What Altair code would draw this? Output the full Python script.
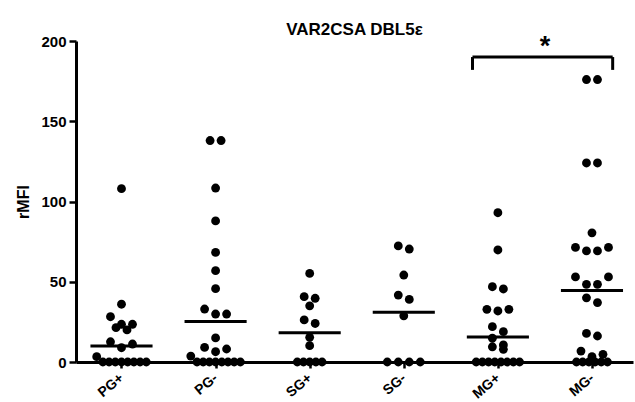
import altair as alt
import pandas as pd

# ---- data ----
groups = ["PG+", "PG-", "SG+", "SG-", "MG+", "MG-"]
pg_pos = [108, 36, 28.2, 23.5, 23.5, 21.4, 20, 12.6, 11.2, 8.9, 3.3, 0, 0, 0, 0, 0, 0, 0, 0]
pg_neg = [138, 138, 108.4, 87.9, 68.3, 56.9, 45.7, 33, 29.9, 29.9, 15, 9.1, 8.1, 6.4, 3.7,
          0, 0, 0, 0, 0, 0, 0, 0]
sg_pos = [55.2, 40.7, 39.7, 35, 26.2, 24, 15.4, 10.2, 0, 0, 0, 0, 0]
sg_neg = [72.3, 70.4, 54.2, 41.7, 39, 28.8, 0, 0, 0, 0]
mg_pos = [93, 69.8, 46.9, 45.5, 32.8, 32.8, 31.8, 22, 18.9, 14.8, 10.6, 9.5, 7.9,
          0, 0, 0, 0, 0, 0, 0, 0]
mg_neg = [176, 176, 124, 124, 80.5, 71.4, 71.4, 69.2, 69.2, 53, 53, 48.4, 48.4, 40, 37,
          17.8, 16.2, 6.8, 4.8, 3.3, 0, 0, 0, 0, 0, 0]
medians = [10, 25.3, 18.3, 31, 15.6, 44.6]
sig_pair = ["MG+", "MG-"]
sig_label = "*"
chart_title = "VAR2CSA DBL5ε"
y_title = "rMFI"

series = [pg_pos, pg_neg, sg_pos, sg_neg, mg_pos, mg_neg]

# ---- group dots into swarm rows (values within one dot height share a row) ----
ROW_GAP = 5.0
recs = []
for gi, (g, vals) in enumerate(zip(groups, series)):
    row, top = -1, None
    for v in sorted(vals, reverse=True):
        if top is None or top - v > ROW_GAP:
            row += 1
            top = v
        recs.append({"group": g, "gi": gi, "value": v, "row": row})
points_df = pd.DataFrame(recs)
med_df = pd.DataFrame({"group": groups, "gi": list(range(len(groups))), "median": medians})

li, ri = groups.index(sig_pair[0]), groups.index(sig_pair[1])
br_df = pd.DataFrame({"xl": [li - 0.27], "xr": [ri + 0.22], "ytop": [190], "ybot": [182],
                      "xm": [(li + ri) / 2], "ys": [191], "label": [sig_label]})

FONT = "Liberation Sans"
PX_PER_GROUP = 94.1

xscale = alt.Scale(domain=[-0.4835, 5.436], nice=False, zero=False)
yscale = alt.Scale(domain=[0, 200], nice=False)

label_expr = "[" + ",".join("'%s'" % g for g in groups) + "][datum.value]"
xaxis = alt.Axis(values=list(range(len(groups))), labelExpr=label_expr, title=None, grid=False,
                 domainColor="black", domainWidth=3, tickColor="black", tickWidth=2.5, tickSize=6,
                 labelAngle=-40, labelAlign="right", labelBaseline="middle", labelPadding=8,
                 labelFont=FONT, labelFontSize=14, labelFontWeight="bold", labelColor="black")
yaxis = alt.Axis(values=[0, 50, 100, 150, 200], title=y_title, grid=False,
                 domainColor="black", domainWidth=3, tickColor="black", tickWidth=2.5, tickSize=7,
                 labelFont=FONT, labelFontSize=15, labelFontWeight="bold", labelColor="black",
                 labelPadding=3, titleFont=FONT, titleFontSize=16, titleFontWeight="bold",
                 titleColor="black", titlePadding=9)

points = alt.Chart(points_df).transform_window(
    r="row_number()", groupby=["group", "row"],
    sort=[alt.SortField("value", order="descending")]
).transform_joinaggregate(
    n="count()", groupby=["group", "row"]
).transform_calculate(
    slot="datum.r % 2 == 1 ? (datum.r - 1) / 2 : datum.n - datum.r / 2",
    sp="datum.n >= 5 ? %f : %f" % (6.2 / PX_PER_GROUP, 11 / PX_PER_GROUP),
    xpos="datum.gi + (datum.slot - (datum.n - 1) / 2) * datum.sp",
).mark_circle(size=78, color="black", opacity=1).encode(
    x=alt.X("xpos:Q", scale=xscale, axis=xaxis),
    y=alt.Y("value:Q", scale=yscale, axis=yaxis),
)

med = alt.Chart(med_df).transform_calculate(
    x1="datum.gi - 0.33", x2="datum.gi + 0.33"
).mark_rule(color="black", strokeWidth=3).encode(
    x=alt.X("x1:Q", scale=xscale), x2="x2:Q", y=alt.Y("median:Q", scale=yscale)
)

br_h = alt.Chart(br_df).mark_rule(color="black", strokeWidth=3).encode(
    x=alt.X("xl:Q", scale=xscale), x2="xr:Q", y=alt.Y("ytop:Q", scale=yscale)
)
br_l = alt.Chart(br_df).mark_rule(color="black", strokeWidth=3).encode(
    x=alt.X("xl:Q", scale=xscale), y=alt.Y("ybot:Q", scale=yscale), y2="ytop:Q"
)
br_r = alt.Chart(br_df).mark_rule(color="black", strokeWidth=3).encode(
    x=alt.X("xr:Q", scale=xscale), y=alt.Y("ybot:Q", scale=yscale), y2="ytop:Q"
)
star = alt.Chart(br_df).mark_text(font=FONT, fontSize=27, fontWeight="bold", color="black",
                                  baseline="alphabetic", align="center").encode(
    x=alt.X("xm:Q", scale=xscale), y=alt.Y("ys:Q", scale=yscale), text="label:N"
)

chart = alt.layer(med, br_h, br_l, br_r, star, points).properties(
    width=557, height=321,
    title=alt.TitleParams(chart_title, font=FONT, fontSize=17, fontWeight="bold", color="black",
                          anchor="middle", offset=1, dy=7),
    autosize=alt.AutoSizeParams(type="none"),
    padding={"left": 76, "top": 41, "right": 2, "bottom": 40},
    background="white",
).configure_view(stroke=None)

chart.save("out.html", embed_options={"renderer": "svg", "actions": False})
